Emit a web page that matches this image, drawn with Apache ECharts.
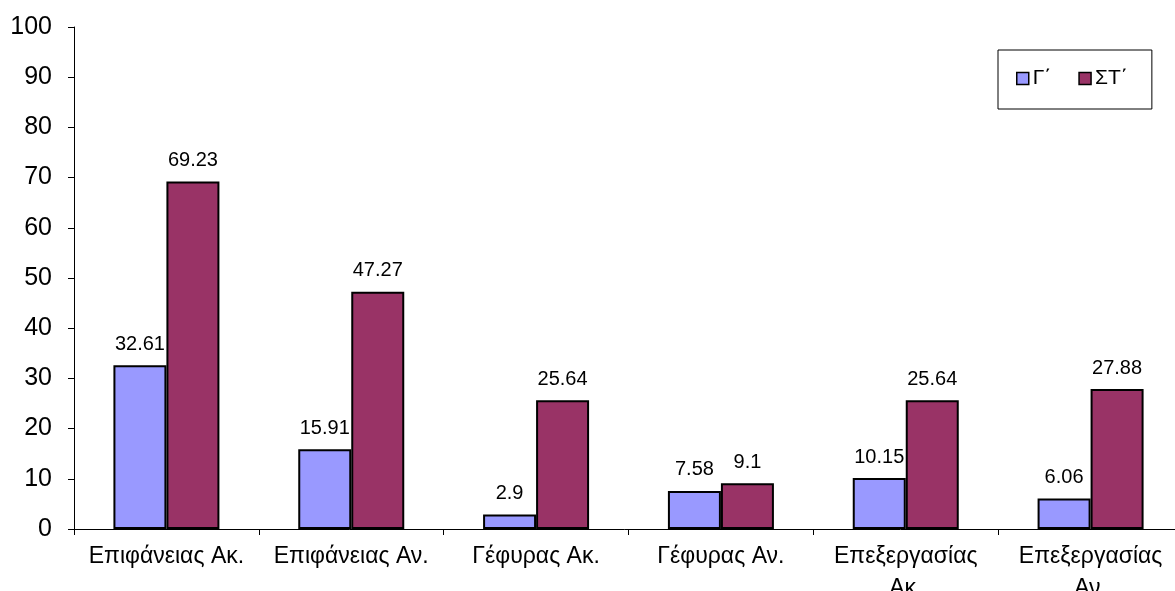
<!DOCTYPE html>
<html>
<head>
<meta charset="utf-8">
<script src="https://cdn.jsdelivr.net/npm/echarts@6/dist/echarts.min.js"></script>
<style>html,body{margin:0;padding:0;background:#fff;}#c{width:1175px;height:591px;}</style>
</head>
<body>
<div id="c"></div>
<script>
const categories = ['Επιφάνειας Ακ.', 'Επιφάνειας Αν.', 'Γέφυρας Ακ.', 'Γέφυρας Αν.', 'Επεξεργασίας Ακ.', 'Επεξεργασίας Αν.'];
const seriesNames = ['Γ΄', 'ΣΤ΄'];
const valuesG = [32.61, 15.91, 2.9, 7.58, 10.15, 6.06];
const valuesST = [69.23, 47.27, 25.64, 9.1, 25.64, 27.88];
const yTicks = { min: 0, max: 100, interval: 10 };

const FONT = '"Liberation Sans", Arial, sans-serif';
const chart = echarts.init(document.getElementById('c'), null, { renderer: 'canvas' });
const barStyle = (color) => ({ color: color, borderColor: '#000', borderWidth: 2 });
const labelStyle = { show: true, position: 'top', distance: 11, color: '#000', fontSize: 20, fontFamily: FONT };

chart.setOption({
  animation: false,
  backgroundColor: '#fff',
  grid: { left: 74, right: -8, top: 27, bottom: 62, containLabel: false, outerBoundsMode: 'none' },
  legend: {
    left: 998, top: 50,
    orient: 'horizontal',
    borderColor: '#000', borderWidth: 1,
    padding: [18, 24, 20, 18],
    itemWidth: 12, itemHeight: 12, itemGap: 27,
    icon: 'rect',
    textStyle: { fontSize: 21, fontFamily: FONT, color: '#000', padding: [0, 0, 0, -1] },
    itemStyle: { borderColor: '#000', borderWidth: 1.5 },
    data: seriesNames
  },
  xAxis: {
    type: 'category',
    data: categories,
    axisLine: { lineStyle: { color: '#000', width: 1 } },
    axisTick: { show: true, length: 6, lineStyle: { color: '#000' } },
    axisLabel: {
      color: '#000', fontSize: 23, fontFamily: FONT, margin: 12, interval: 0, lineHeight: 32,
      formatter: (v) => v.length > 14 ? v.replace(' ', '\n') : v
    }
  },
  yAxis: {
    type: 'value',
    min: yTicks.min, max: yTicks.max, interval: yTicks.interval,
    axisLine: { show: true, lineStyle: { color: '#000', width: 1 } },
    axisTick: { show: true, length: 6, lineStyle: { color: '#000' } },
    splitLine: { show: false },
    axisLabel: { color: '#000', fontSize: 25, fontFamily: FONT, margin: 22 }
  },
  series: [
    { name: seriesNames[0], type: 'bar', data: valuesG, barWidth: 53, barGap: '0%', itemStyle: barStyle('#9999FF'), label: labelStyle },
    { name: seriesNames[1], type: 'bar', data: valuesST, barWidth: 53, barGap: '0%', itemStyle: barStyle('#993366'), label: labelStyle }
  ]
});
</script>
</body>
</html>
